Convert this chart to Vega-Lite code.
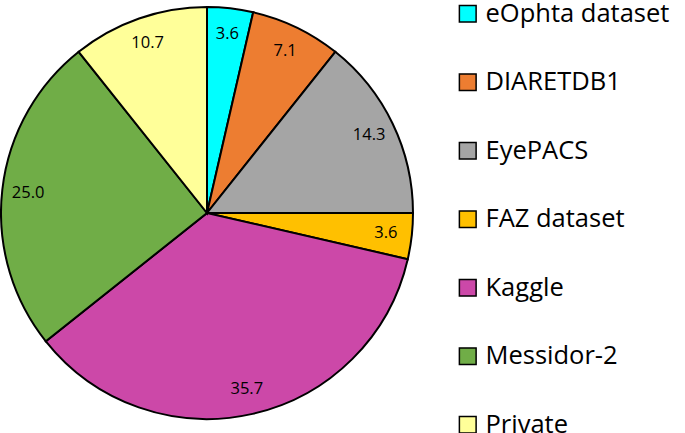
{
  "$schema": "https://vega.github.io/schema/vega-lite/v6.json",
  "width": 414,
  "height": 414,
  "autosize": {"type": "none"},
  "padding": {"left": 0, "top": 6, "right": 271, "bottom": 13},
  "background": "white",
  "config": {"view": {"stroke": null}, "font": "Open Sans"},
  "data": {"values": [
    {"i": 1, "name": "eOphta dataset", "value": 3.6, "label": "3.6"},
    {"i": 2, "name": "DIARETDB1", "value": 7.1, "label": "7.1"},
    {"i": 3, "name": "EyePACS", "value": 14.3, "label": "14.3"},
    {"i": 4, "name": "FAZ dataset", "value": 3.6, "label": "3.6"},
    {"i": 5, "name": "Kaggle", "value": 35.7, "label": "35.7"},
    {"i": 6, "name": "Messidor-2", "value": 25.0, "label": "25.0"},
    {"i": 7, "name": "Private", "value": 10.7, "label": "10.7"}
  ]},
  "encoding": {
    "theta": {"field": "value", "type": "quantitative", "stack": true},
    "order": {"field": "i", "type": "quantitative"}
  },
  "layer": [
    {
      "mark": {"type": "arc", "stroke": "black", "strokeWidth": 2, "outerRadius": 206},
      "encoding": {
        "color": {
          "field": "name", "type": "nominal",
          "scale": {
            "domain": ["eOphta dataset", "DIARETDB1", "EyePACS", "FAZ dataset", "Kaggle", "Messidor-2", "Private"],
            "range": ["#00FFFF", "#ED7D31", "#A5A5A5", "#FFC000", "#CC48A8", "#70AD47", "#FFFF99"]
          },
          "legend": {
            "title": null,
            "orient": "none",
            "legendX": 455,
            "legendY": -5,
            "symbolType": "square",
            "symbolSize": 280,
            "symbolStrokeColor": "black",
            "symbolStrokeWidth": 1.5,
            "symbolOpacity": 1,
            "labelFontSize": 25.5,
            "labelColor": "black",
            "labelOffset": 5,
            "rowPadding": 41.5,
            "labelLimit": 300
          }
        }
      }
    },
    {
      "mark": {"type": "text", "radius": 180, "fontSize": 16.5, "color": "black"},
      "encoding": {
        "text": {"field": "label", "type": "nominal"}
      }
    }
  ]
}
